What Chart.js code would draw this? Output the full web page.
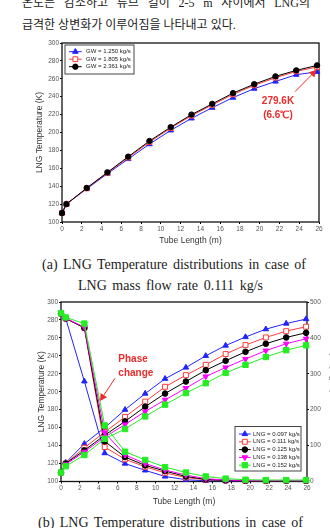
<!DOCTYPE html>
<html lang="ko">
<head>
<meta charset="utf-8">
<script src="https://cdn.jsdelivr.net/npm/chart.js@4/dist/chart.umd.min.js"></script>
<style>
  html, body { margin:0; padding:0; background:#fff; }
  body { width:330px; height:528px; overflow:hidden; position:relative; }
  .txt { position:absolute; color:#1c1c1c; white-space:nowrap; }
  .kr { font-family:"Liberation Serif","Noto Sans CJK KR",serif; font-size:12px; line-height:16px; }
  .cap { font-family:"Liberation Serif",serif; font-size:14px; line-height:16px; }
  .just { white-space:normal; text-align:justify; text-align-last:justify; }
  canvas { position:absolute; left:0; }
  #rtitle { position:absolute; font-family:"Liberation Sans",Arial,sans-serif; font-size:8.5px; color:#333;
            white-space:nowrap; left:333px; top:392px; transform:translate(-50%,-50%) rotate(-90deg); }
</style>
</head>
<body>
<div class="txt kr just" style="left:22px;top:-5px;width:288px;">온도는 감소하고 튜브 길이 2-5 m 사이에서 LNG의</div>
<div class="txt kr" style="left:22px;top:17px;">급격한 상변화가 이루어짐을 나타내고 있다.</div>

<canvas id="chartA" width="330" height="215" style="top:35px;width:330px;height:215px;"></canvas>
<div class="txt cap just" style="left:42px;top:256.5px;width:264px;">(a) LNG Temperature distributions in case of</div>
<div class="txt cap just" style="left:78px;top:277.5px;width:185px;">LNG mass flow rate 0.111 kg/s</div>

<canvas id="chartB" width="330" height="215" style="top:295px;width:330px;height:215px;"></canvas>
<div id="rtitle">LNG Density (kg/m3)</div>
<div class="txt cap just" style="left:38px;top:514.5px;width:265px;">(b) LNG Temperature distributions in case of</div>

<script>
// ===== Data =====
// Tick labels
const xTicks = [0, 2, 4, 6, 8, 10, 12, 14, 16, 18, 20, 22, 24, 26];
const tempTicks = [100, 120, 140, 160, 180, 200, 220, 240, 260, 280, 300];
const densityTicks = [0, 100, 200, 300, 400, 500];

// (a) LNG temperature vs tube length for three gas-water flows
const tubeLengthA = [0, 0.45, 2.5, 4.6, 6.7, 8.85, 11.0, 13.1, 15.2, 17.3, 19.45, 21.6, 23.7, 25.8];
const gwLabels = ['GW = 1.250 kg/s', 'GW = 1.805 kg/s', 'GW = 2.361 kg/s'];
const tempGW1250 = [110, 120, 137, 154, 170.4, 187, 202.4, 215.8, 227.7, 239, 249, 257, 264.6, 267.8];
const tempGW1805 = [110, 120, 137.6, 155, 172, 189.3, 205, 218.8, 230.8, 242.6, 252.8, 261.2, 268.3, 273.2];
const tempGW2361 = [110, 120, 138, 155.5, 173, 190.5, 206, 220, 232, 244, 254, 262.7, 269.4, 275];

// (b) LNG temperature and density for five LNG mass flow rates
const tubeLengthB = [0, 0.5, 2.47, 4.62, 6.77, 8.9, 11.0, 13.2, 15.3, 17.4, 19.5, 21.65, 23.8, 25.9];
const lngLabels = ['LNG = 0.097 kg/s', 'LNG = 0.111 kg/s', 'LNG = 0.125 kg/s', 'LNG = 0.138 kg/s', 'LNG = 0.152 kg/s'];
const temp097 = [110, 121, 142, 160, 180, 198, 214.5, 227, 240, 251.5, 261, 269.7, 276, 281];
const temp111 = [110, 120, 137.6, 155, 172, 189, 205.5, 218.5, 230, 242, 252, 260.5, 267.5, 272.5];
const temp125 = [110, 120, 134.7, 151.6, 167, 183.4, 198, 211.4, 224, 234.5, 244.5, 253.5, 260.5, 265.7];
const temp138 = [110, 119, 133, 149.4, 163.5, 178, 191, 204, 217, 227, 236.5, 245.8, 253.5, 259];
const temp152 = [110, 117, 129.5, 147.6, 158.5, 172.5, 185.6, 198.5, 209.5, 221, 230, 238.7, 246.3, 251.7];
const dens097 = [468, 454, 279, 79, 50, 31, 14, 5, 2, 2, 2, 2, 2, 2];
const dens111 = [468, 454, 428, 96, 62, 41, 24, 11, 5, 3, 2, 2, 2, 2];
const dens125 = [468, 454, 428, 112, 68, 45, 29, 14, 6, 3, 2, 2, 2, 2];
const dens138 = [468, 455, 430, 136, 74, 50, 32, 18, 8, 4, 3, 3, 3, 3];
const dens152 = [469, 457, 440, 156, 83, 60, 40, 25, 14, 8, 5, 4, 4, 4];

// ===== Styles =====
const SANS = '"Liberation Sans", Arial, sans-serif';
const RED = '#ea2c2c';
const stylesA = [
  {line:'#2222ff', fill:'#2222ff', pointStyle:'triangle', rotation:0, radius:3.2, order:2},
  {line:'#ff3a3a', fill:'#ffffff', pointStyle:'rect', rotation:0, radius:3.4, order:1},
  {line:'#000000', fill:'#000000', pointStyle:'circle', rotation:0, radius:2.7, order:0}
];
const stylesB = [
  {line:'#2222ff', fill:'#2222ff', pointStyle:'triangle', rotation:0, radius:3.2, order:4},
  {line:'#ff3a3a', fill:'#ffffff', pointStyle:'rect', rotation:0, radius:3.5, order:3},
  {line:'#000000', fill:'#000000', pointStyle:'circle', rotation:0, radius:2.8, order:2},
  {line:'#ff00ff', fill:'#ff00ff', pointStyle:'triangle', rotation:180, radius:3.2, order:1},
  {line:'#22ee22', fill:'#22ee22', pointStyle:'rect', rotation:0, radius:3.8, order:0}
];

function pts(xs, ys) { return xs.map((x, i) => ({x: x, y: ys[i]})); }
function makeDs(label, xs, ys, st, axis) {
  return {
    label: label, data: pts(xs, ys), yAxisID: axis,
    borderColor: st.line, borderWidth: 1, tension: 0, fill: false, clip: false,
    pointStyle: st.pointStyle, pointRotation: st.rotation, pointRadius: st.radius,
    pointBackgroundColor: st.fill, pointBorderColor: st.line, pointBorderWidth: 1,
    order: st.order
  };
}

function drawMarker(ctx, st, x, y) {
  ctx.save();
  ctx.fillStyle = st.fill; ctx.strokeStyle = st.line; ctx.lineWidth = 1;
  if (window.Chart && Chart.helpers && Chart.helpers.drawPoint) {
    Chart.helpers.drawPoint(ctx, {pointStyle: st.pointStyle, rotation: st.rotation, radius: st.radius, borderWidth: 1}, x, y);
  } else {
    ctx.beginPath(); ctx.arc(x, y, st.radius, 0, Math.PI * 2); ctx.fill(); ctx.stroke();
  }
  ctx.restore();
}

const framePlugin = {
  id: 'frame',
  beforeDatasetsDraw(chart) {
    const {ctx, chartArea: a} = chart;
    ctx.save(); ctx.strokeStyle = '#111'; ctx.lineWidth = 1.3;
    ctx.strokeRect(a.left, a.top, a.right - a.left, a.bottom - a.top);
    ctx.restore();
  }
};

function legendPlugin(id, labels, styles, boxFn) {
  return {
    id: id,
    afterDatasetsDraw(chart) {
      const ctx = chart.ctx, b = boxFn(chart.chartArea);
      ctx.save();
      ctx.fillStyle = '#fff'; ctx.fillRect(b.x, b.y, b.w, b.h);
      ctx.strokeStyle = '#444'; ctx.lineWidth = 1; ctx.strokeRect(b.x, b.y, b.w, b.h);
      ctx.font = '6px ' + SANS; ctx.fillStyle = '#222'; ctx.textBaseline = 'middle'; ctx.textAlign = 'left';
      labels.forEach((lab, i) => {
        const st = styles[i], y = b.y + b.first + i * b.step;
        ctx.strokeStyle = st.line; ctx.lineWidth = 1;
        ctx.beginPath(); ctx.moveTo(b.x + b.l0, y); ctx.lineTo(b.x + b.l1, y); ctx.stroke();
        drawMarker(ctx, st, b.x + (b.l0 + b.l1) / 2, y);
        ctx.fillStyle = '#222';
        ctx.fillText(lab, b.x + b.tx, y);
      });
      ctx.restore();
    }
  };
}

function arrow(ctx, x1, y1, x2, y2, head, color) {
  const a = Math.atan2(y2 - y1, x2 - x1), c = Math.cos(a), s = Math.sin(a);
  ctx.save(); ctx.strokeStyle = color; ctx.fillStyle = color; ctx.lineWidth = 1;
  ctx.beginPath(); ctx.moveTo(x1, y1); ctx.lineTo(x2 - c * head * 0.8, y2 - s * head * 0.8); ctx.stroke();
  ctx.beginPath(); ctx.moveTo(x2, y2);
  ctx.lineTo(x2 - head * c + head * 0.55 * s, y2 - head * s - head * 0.55 * c);
  ctx.lineTo(x2 - head * c - head * 0.55 * s, y2 - head * s + head * 0.55 * c);
  ctx.closePath(); ctx.fill(); ctx.restore();
}

function xScale(title, pb) {
  return {
    type: 'linear', min: xTicks[0], max: xTicks[xTicks.length - 1],
    afterBuildTicks: s => { s.ticks = xTicks.map(v => ({value: v})); },
    afterFit: s => { s.height = 28; },
    grid: {drawOnChartArea: false, drawTicks: true, tickLength: 2, color: '#000', lineWidth: 1},
    border: {display: false},
    ticks: {padding: 1, font: {size: 6.5, family: SANS}, color: '#555', maxRotation: 0, autoSkip: false},
    title: {display: true, text: title, font: {size: 8.5, family: SANS}, color: '#333', padding: {top: 0, bottom: pb}}
  };
}
function yScale(ticksArr, pos, width, title, pt) {
  return {
    type: 'linear', position: pos, min: ticksArr[0], max: ticksArr[ticksArr.length - 1],
    afterBuildTicks: s => { s.ticks = ticksArr.map(v => ({value: v})); },
    afterFit: s => { s.width = width; },
    grid: {drawOnChartArea: false, drawTicks: true, tickLength: 2, color: '#000', lineWidth: 1},
    border: {display: false},
    ticks: {padding: 1, font: {size: 6.5, family: SANS}, color: '#555', autoSkip: false},
    title: {display: !!title, text: title || '', font: {size: 8.5, family: SANS}, color: '#333', padding: {top: pt, bottom: 0}}
  };
}

// ===== Chart (a) =====
const annA = {
  id: 'annA',
  afterDatasetsDraw(chart) {
    const {ctx, scales: {x, y}} = chart;
    arrow(ctx, x.getPixelForValue(23.57), y.getPixelForValue(245.6), x.getPixelForValue(25.75), y.getPixelForValue(270), 7, RED);
    ctx.save(); ctx.fillStyle = RED; ctx.font = 'bold 10px ' + SANS; ctx.textAlign = 'center'; ctx.textBaseline = 'middle';
    ctx.fillText('279.6K', x.getPixelForValue(21.85), y.getPixelForValue(234.4));
    ctx.fillText('(6.6\u2103)', x.getPixelForValue(21.85), y.getPixelForValue(218.8));
    ctx.restore();
  }
};
new Chart(document.getElementById('chartA'), {
  type: 'line',
  data: {datasets: [
    makeDs(gwLabels[0], tubeLengthA, tempGW1250, stylesA[0], 'y'),
    makeDs(gwLabels[1], tubeLengthA, tempGW1805, stylesA[1], 'y'),
    makeDs(gwLabels[2], tubeLengthA, tempGW2361, stylesA[2], 'y')
  ]},
  options: {
    responsive: false, animation: false, devicePixelRatio: 1,
    layout: {padding: {top: 8, right: 11, left: 0, bottom: 0}},
    plugins: {legend: {display: false}, tooltip: {enabled: false}},
    scales: {
      x: xScale('Tube Length (m)', 3.9),
      y: yScale(tempTicks, 'left', 62, 'LNG Temperature (K)', 35)
    }
  },
  plugins: [framePlugin, annA,
    legendPlugin('legA', gwLabels, stylesA, a => ({x: a.left + 3, y: a.top + 2, w: 69, h: 29, first: 6.7, step: 7.5, l0: 4, l1: 16.7, tx: 21}))]
});

// ===== Chart (b) =====
const annB = {
  id: 'annB',
  afterDatasetsDraw(chart) {
    const {ctx, scales: {x, y}} = chart;
    arrow(ctx, x.getPixelForValue(5.71), y.getPixelForValue(215), x.getPixelForValue(4.12), y.getPixelForValue(189.7), 7, RED);
    ctx.save(); ctx.fillStyle = RED; ctx.font = 'bold 10px ' + SANS; ctx.textAlign = 'left'; ctx.textBaseline = 'middle';
    ctx.fillText('Phase', x.getPixelForValue(6.06), y.getPixelForValue(236.5));
    ctx.fillText('change', x.getPixelForValue(6.06), y.getPixelForValue(220.9));
    ctx.restore();
  }
};
const tempB = [temp097, temp111, temp125, temp138, temp152];
const densB = [dens097, dens111, dens125, dens138, dens152];
const dsB = [];
lngLabels.forEach((lab, i) => { dsB.push(makeDs(lab, tubeLengthB, tempB[i], stylesB[i], 'y')); });
lngLabels.forEach((lab, i) => { dsB.push(makeDs(lab + ' density', tubeLengthB, densB[i], stylesB[i], 'y1')); });
new Chart(document.getElementById('chartB'), {
  type: 'line',
  data: {datasets: dsB},
  options: {
    responsive: false, animation: false, devicePixelRatio: 1,
    layout: {padding: {top: 7, right: 0, left: 0, bottom: 0}},
    plugins: {legend: {display: false}, tooltip: {enabled: false}},
    scales: {
      x: Object.assign(xScale('Tube Length (m)', 2.9), {afterFit: s => { s.height = 28.5; }}),
      y: yScale(tempTicks, 'left', 61, 'LNG Temperature (K)', 36.5),
      y1: yScale(densityTicks, 'right', 23, '', 0)
    }
  },
  plugins: [framePlugin, annB,
    legendPlugin('legB', lngLabels, stylesB, a => ({x: a.right - 72, y: a.bottom - 55, w: 66, h: 44.5, first: 7.5, step: 7.8, l0: 4, l1: 15.7, tx: 18}))]
});
</script>
</body>
</html>
